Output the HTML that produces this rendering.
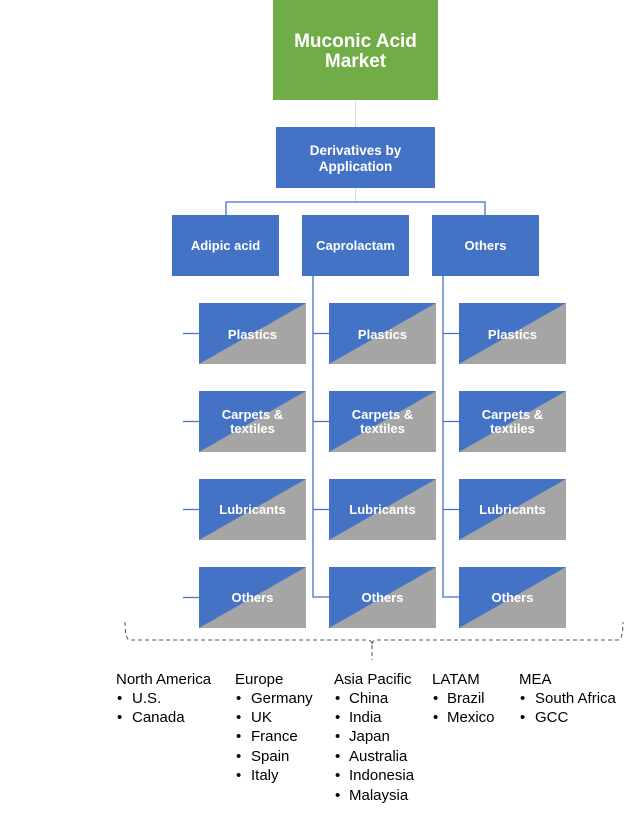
<!DOCTYPE html>
<html><head><meta charset="utf-8"><style>
html,body{margin:0;padding:0;background:#fff;}
svg{display:block;}
.w{font-family:"Liberation Sans",sans-serif;font-weight:bold;fill:#fff;text-anchor:middle;}
.l{font-family:"Liberation Sans",sans-serif;font-size:15px;fill:#000;}
</style></head><body>
<svg width="642" height="813" viewBox="0 0 642 813" xmlns="http://www.w3.org/2000/svg">
<rect x="273" y="0" width="165" height="100" fill="#70AD47"/>
<text class="w" x="355.5" y="47" font-size="19">Muconic Acid</text>
<text class="w" x="355.5" y="67" font-size="19">Market</text>
<line x1="355.5" y1="100" x2="355.5" y2="202" stroke="#D9DCE3" stroke-width="1"/>
<rect x="276" y="127" width="159" height="61" fill="#4472C4"/>
<text class="w" x="355.5" y="155" font-size="13.5">Derivatives  by</text>
<text class="w" x="355.5" y="171" font-size="13.5">Application</text>
<path d="M226 215 V202 H485 V215" fill="none" stroke="#4472C4" stroke-width="1.3"/>
<rect x="172" y="215" width="107" height="61" fill="#4472C4"/>
<rect x="302" y="215" width="107" height="61" fill="#4472C4"/>
<rect x="432" y="215" width="107" height="61" fill="#4472C4"/>
<text class="w" x="225.5" y="250" font-size="13">Adipic acid</text>
<text class="w" x="355.5" y="250" font-size="13">Caprolactam</text>
<text class="w" x="485.5" y="250" font-size="13">Others</text>
<g fill="none" stroke="#4472C4" stroke-width="1.3">
<path d="M313 276 V597 H329 M313 333.5 H329 M313 421.5 H329 M313 509.5 H329"/>
<path d="M443 276 V597 H459 M443 333.5 H459 M443 421.5 H459 M443 509.5 H459"/>
<path d="M183 333.5 H199 M183 421.5 H199 M183 509.5 H199 M183 597.5 H199"/>
</g>
<defs>
<g id="leaf">
<rect x="0" y="0" width="107" height="61" fill="#A5A5A5"/>
<polygon points="0,0 107,0 0,61" fill="#4472C4"/>
</g>
</defs>
<g>
<use href="#leaf" x="199" y="303"/><use href="#leaf" x="329" y="303"/><use href="#leaf" x="459" y="303"/>
<use href="#leaf" x="199" y="391"/><use href="#leaf" x="329" y="391"/><use href="#leaf" x="459" y="391"/>
<use href="#leaf" x="199" y="479"/><use href="#leaf" x="329" y="479"/><use href="#leaf" x="459" y="479"/>
<use href="#leaf" x="199" y="567"/><use href="#leaf" x="329" y="567"/><use href="#leaf" x="459" y="567"/>
</g>
<g class="w" font-size="13">
<text x="252.5" y="339">Plastics</text><text x="382.5" y="339">Plastics</text><text x="512.5" y="339">Plastics</text>
<text x="252.5" y="419">Carpets &amp;</text><text x="382.5" y="419">Carpets &amp;</text><text x="512.5" y="419">Carpets &amp;</text>
<text x="252.5" y="433">textiles</text><text x="382.5" y="433">textiles</text><text x="512.5" y="433">textiles</text>
<text x="252.5" y="514">Lubricants</text><text x="382.5" y="514">Lubricants</text><text x="512.5" y="514">Lubricants</text>
<text x="252.5" y="602">Others</text><text x="382.5" y="602">Others</text><text x="512.5" y="602">Others</text>
</g>
<path d="M125 622 Q125 640 130 640 H367 Q372 640 372 645 Q372 640 377 640 H618 Q623 640 623 622 M372 645 V660" fill="none" stroke="#555" stroke-width="1" stroke-dasharray="4,3"/>
<g class="l">
<text x="116" y="684">North America</text>
<text x="117" y="703">•</text><text x="132" y="703">U.S.</text>
<text x="117" y="722">•</text><text x="132" y="722">Canada</text>
<text x="235" y="684">Europe</text>
<text x="236" y="703">•</text><text x="251" y="703">Germany</text>
<text x="236" y="722">•</text><text x="251" y="722">UK</text>
<text x="236" y="741">•</text><text x="251" y="741">France</text>
<text x="236" y="761">•</text><text x="251" y="761">Spain</text>
<text x="236" y="780">•</text><text x="251" y="780">Italy</text>
<text x="334" y="684">Asia Pacific</text>
<text x="335" y="703">•</text><text x="349" y="703">China</text>
<text x="335" y="722">•</text><text x="349" y="722">India</text>
<text x="335" y="741">•</text><text x="349" y="741">Japan</text>
<text x="335" y="761">•</text><text x="349" y="761">Australia</text>
<text x="335" y="780">•</text><text x="349" y="780">Indonesia</text>
<text x="335" y="800">•</text><text x="349" y="800">Malaysia</text>
<text x="432" y="684">LATAM</text>
<text x="433" y="703">•</text><text x="447" y="703">Brazil</text>
<text x="433" y="722">•</text><text x="447" y="722">Mexico</text>
<text x="519" y="684">MEA</text>
<text x="520" y="703">•</text><text x="535" y="703">South Africa</text>
<text x="520" y="722">•</text><text x="535" y="722">GCC</text>
</g>
</svg>
</body></html>
